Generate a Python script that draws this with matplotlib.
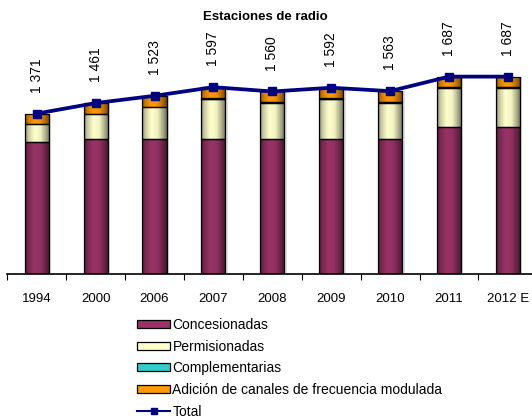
import matplotlib
matplotlib.use("Agg")
import matplotlib.pyplot as plt
import numpy as np
from matplotlib.colors import to_rgb
from matplotlib.lines import Line2D
from matplotlib.patches import Patch, Rectangle

plt.rcParams["font.family"] = ["Liberation Sans", "DejaVu Sans"]

years = ["1994", "2000", "2006", "2007", "2008", "2009", "2010", "2011", "2012 E"]
total = [1371, 1461, 1523, 1597, 1560, 1592, 1563, 1687, 1687]
concesionadas = [1130, 1150, 1150, 1150, 1150, 1150, 1150, 1258, 1258]
permisionadas = [150, 217, 279, 343, 314, 343, 314, 336, 336]
complementarias = [0, 0, 0, 7, 7, 7, 7, 6, 6]
adicion_fm = [91, 94, 94, 97, 89, 92, 92, 87, 87]

series = [
    ("Concesionadas", concesionadas, "#993366"),
    ("Permisionadas", permisionadas, "#FFFFCC"),
    ("Complementarias", complementarias, "#33CCCC"),
    ("Adición de canales de frecuencia modulada", adicion_fm, "#FF9900"),
]

BAR_W = 0.41
# horizontal shading across each bar: dark edges, light centre-left
_t = np.linspace(0, 1, 64)
_shade = np.interp(_t, [0, 0.12, 0.38, 0.62, 0.88, 1], [0.50, 0.78, 1.0, 0.95, 0.62, 0.42])


def shaded_bar(ax, x, bottom, height, color):
    if height <= 0:
        return
    base = np.array(to_rgb(color))
    img = np.clip(_shade[None, :, None] * base[None, None, :], 0, 1)
    x0 = x - BAR_W / 2
    rect = Rectangle((x0, bottom), BAR_W, height, facecolor="none",
                     edgecolor="black", linewidth=0.9, zorder=3)
    ax.add_patch(rect)
    im = ax.imshow(img, extent=(x0, x0 + BAR_W, bottom, bottom + height),
                   aspect="auto", interpolation="bilinear", zorder=2)
    im.set_clip_path(rect)


fig = plt.figure(figsize=(5.32, 4.18), dpi=100)
ax = fig.add_axes([7.3 / 532, 1 - 274 / 418, 530 / 532, 234 / 418])

x = np.arange(len(years))
bottom = np.zeros(len(years))
for name, vals, color in series:
    for i, v in enumerate(vals):
        shaded_bar(ax, x[i], bottom[i], v, color)
    bottom += np.array(vals)

# soft shadow along the right side of each bar
for i in x:
    ax.add_patch(Rectangle((i + BAR_W / 2, 0), 0.04, total[i], facecolor="#e0e0e0",
                           edgecolor="none", zorder=1))

ax.plot(x, total, color="#000080", linewidth=2.7, marker="s", markersize=5.5, zorder=5)

for i, v in enumerate(total):
    label = f"{v // 1000} {v % 1000:03d}"
    ax.annotate(label, (x[i], v), xytext=(0, 15), textcoords="offset points",
                rotation=90, ha="center", va="bottom", fontsize=10)

ax.set_xlim(-0.5, len(years) - 0.5)
ax.set_ylim(0, 2000)
for side in ("left", "right", "top"):
    ax.spines[side].set_visible(False)
ax.spines["bottom"].set_linewidth(1.2)
ax.set_yticks([])
ax.set_xticks(x)
ax.set_xticklabels(years, fontsize=9.5)
ax.tick_params(axis="x", length=0, pad=14)
ax.set_xticks(np.arange(len(years)) - 0.5, minor=True)
ax.tick_params(axis="x", which="minor", length=4, width=0.8, direction="out")

fig.text(265 / 532, 1 - 17 / 418, "Estaciones de radio", ha="center", va="center",
         fontsize=9.5, fontweight="bold")

handles = [Patch(facecolor=c, edgecolor="black", linewidth=0.9) for _, _, c in series]
handles.append(Line2D([], [], color="#000080", linewidth=1.5, marker="s", markersize=5))
labels = [s[0] for s in series] + ["Total"]
fig.legend(handles, labels, loc="upper left", bbox_to_anchor=(137 / 532, 1 - 318 / 418),
           frameon=False, fontsize=10, handlelength=2.4, handleheight=0.5,
           handletextpad=0.15, labelspacing=0.55, borderaxespad=0, borderpad=0)

fig.savefig("out.png", dpi=100)
